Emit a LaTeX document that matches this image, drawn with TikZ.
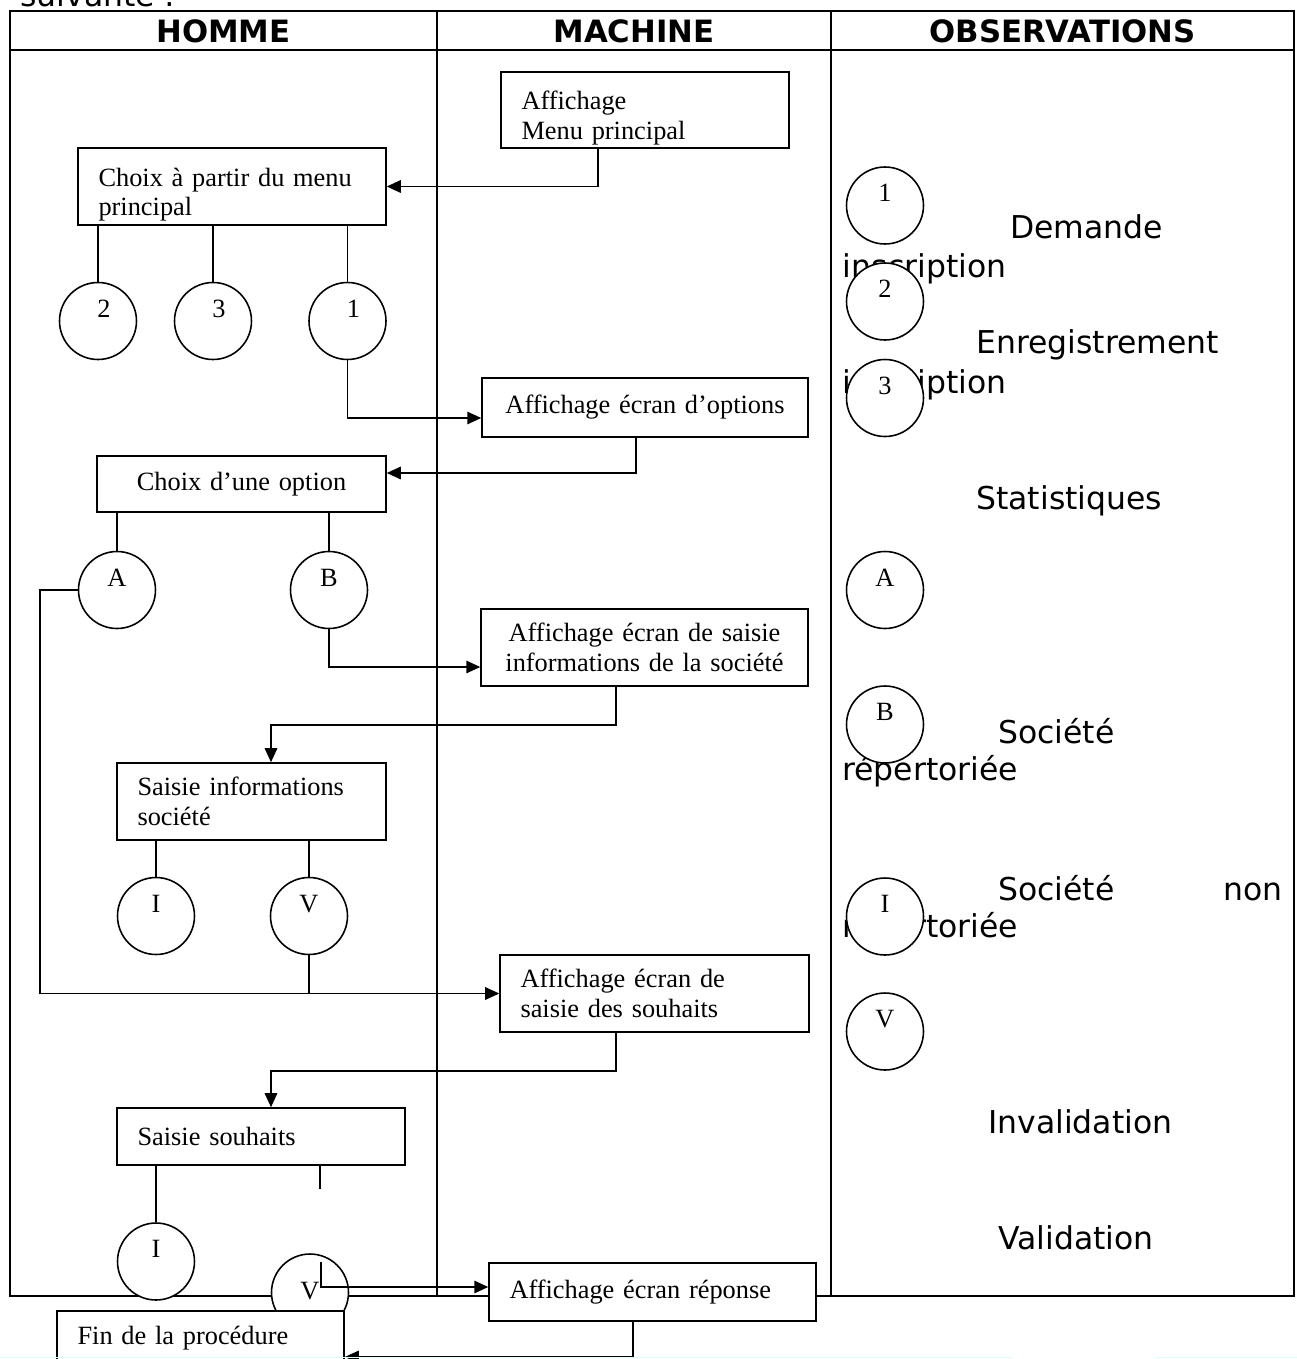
\documentclass[tikz,border=0pt]{standalone}
\usepackage{fontspec}
\setmainfont{Liberation Serif}
\newfontfamily\obsfont{DejaVu Sans}
\usepackage{tikz}
\usetikzlibrary{arrows.meta}
\definecolor{pageCyan}{HTML}{E2FBFB}

\begin{document}
\begin{tikzpicture}[x=0.02cm, y=-0.02cm,
    box/.style={draw, line width=0.9pt, fill=white, inner xsep=0.41cm, inner ysep=0pt,
        font=\fontsize{15}{17}\selectfont, align=left},
    disc/.style={draw, circle, line width=0.9pt, fill=white, minimum size=1.54cm, inner sep=0pt,
        text height=0.3cm, text depth=0.46cm, font=\fontsize{15}{17}\selectfont},
    obs/.style={anchor=base west, inner sep=0pt, font=\obsfont\fontsize{17.9}{21}\selectfont},
    head/.style={inner sep=0pt, font=\obsfont\bfseries\fontsize{17.5}{21}\selectfont},
    link/.style={line width=0.9pt},
    arr/.style={link, -{Triangle[length=0.28cm, width=0.25cm]}}]
    \useasboundingbox (0,0) rectangle (1297,1359);

    % table
    \draw[line width=1.2pt] (10,11) rectangle (1294,1296);
    \draw[line width=1.2pt] (10,50) -- (1294,50);
    \draw[line width=0.9pt] (437,11) -- (437,1296);
    \draw[line width=0.9pt] (831,11) -- (831,1296);
    \node[obs] (intro) at (20,7) {suivante :};
    \node[head] (hHomme) at (223.5,31) {HOMME};
    \node[head] (hMachine) at (634,31) {MACHINE};
    \node[head] (hObs) at (1062.5,31) {OBSERVATIONS};

    % observations
    \node[obs] (t1a) at (1010,238) {Demande};
    \node[obs] (t1b) at (842,277) {inscription};
    \node[obs] (t2a) at (976,353) {Enregistrement};
    \node[obs] (t2b) at (842,393) {inscription};
    \node[obs] (t3) at (976,509) {Statistiques};
    \node[obs] (tBa) at (998,743) {Société};
    \node[obs] (tBb) at (842,780) {répertoriée};
    \node[obs] (tIa) at (998,900) {Société};
    \node[obs, anchor=base east] (tIn) at (1283,900) {non};
    \node[obs] (tIb) at (842,937) {répertoriée};
    \node[obs] (tInv) at (988,1133) {Invalidation};
    \node[obs] (tVal) at (998,1249) {Validation};
    \node[disc] (o1) at (885,205.5) {1};
    \node[disc] (o2) at (885,301.5) {2};
    \node[disc] (o3) at (885,398) {3};
    \node[disc] (oA) at (885,590) {A};
    \node[disc] (oB) at (885,724.5) {B};
    \node[disc] (oI) at (885,916.5) {I};
    \node[disc] (oV) at (885,1031.5) {V};

    % boxes and choices
    \node[box, text width=4.94cm, minimum height=1.52cm] (mp) at (645,110) {\rule{0pt}{0.69cm}Affichage\\Menu principal};
    \node[box, text width=5.34cm, minimum height=1.54cm] (cm) at (232,186.5) {\rule{0pt}{0.69cm}Choix à partir du menu\\principal};
    \node[disc] (c2) at (98,321) {\hspace*{0.24cm}2};
    \node[disc] (c3) at (213,321) {\hspace*{0.24cm}3};
    \node[disc] (c1) at (347.5,321) {\hspace*{0.24cm}1};
    \node[box, text width=5.70cm, minimum height=1.18cm, align=center] (eo) at (645,407.5) {Affichage écran d’options};
    \node[box, text width=4.96cm, minimum height=1.12cm, align=center] (co) at (241.5,484) {Choix d’une option};
    \node[disc] (cA) at (117,590) {A};
    \node[disc] (cB) at (329,590) {B};
    \node[box, text width=5.72cm, minimum height=1.54cm, align=center] (si) at (644.5,647.5) {Affichage écran de saisie\\informations de la société};
    \node[box, text width=4.56cm, minimum height=1.54cm] (sis) at (251.5,801.5) {Saisie informations\\société};
    \node[disc] (cI) at (156,916) {I};
    \node[disc] (cV) at (309,916) {V};
    \node[box, text width=5.36cm, minimum height=1.54cm] (ss) at (654.5,993.5) {Affichage écran de\\saisie des souhaits};
    \node[box, text width=4.94cm, minimum height=1.14cm] (sh) at (261,1136.5) {Saisie souhaits};
    \node[disc] (cI2) at (156,1261.5) {I};
    \node[disc, text depth=0.04cm] (cV2) at (310,1292.5) {V};
    \node[box, text width=5.72cm, minimum height=1.16cm] (er) at (652.5,1292) {Affichage écran réponse};
    \node[box, text width=4.92cm, minimum height=1.08cm] (fp) at (200.5,1338) {Fin de la procédure};
    \coordinate (shstub) at (320,1189);
    \coordinate (vin) at (321,1262);

    % connectors
    \draw[arr] ([xshift=-0.94cm]mp.south) |- (cm.east);
    \foreach \c in {c2,c3,c1}
        \draw[link] (\c.north) -- (\c.north |- cm.south);
    \draw[arr] (c1.south) |- ([yshift=-0.21cm]eo.west);
    \draw[arr] ([xshift=-0.18cm]eo.south) |- ([yshift=0.22cm]co.east);
    \foreach \c in {cA,cB}
        \draw[link] (\c.north) -- (\c.north |- co.south);
    \draw[arr] (cB.south) |- ([yshift=-0.39cm]si.west);
    \draw[arr] ([xshift=-0.57cm]si.south) -- ++(0,38) -| ([xshift=0.39cm]sis.north);
    \foreach \c in {cI,cV}
        \draw[link] (\c.north) -- (\c.north |- sis.south);
    \draw[arr] (cA.west) -- ++(-38,0) |- (ss.west);
    \draw[link] (cV.south) -- (cV.south |- ss.west);
    \draw[arr] ([xshift=-0.77cm]ss.south) -- ++(0,38) -| ([xshift=0.2cm]sh.north);
    \draw[link] (cI2.north) -- (cI2.north |- sh.south);
    \draw[link] (shstub |- sh.south) -- (shstub);
    \draw[arr] (vin) |- ([yshift=0.1cm]er.west);
    \draw[arr] ([xshift=-0.39cm]er.south) |- ([yshift=-0.38cm]fp.east);

    \draw[pageCyan, line width=1pt] (0,1357.5) -- (1013,1357.5) (1157,1357.5) -- (1297,1357.5);
\end{tikzpicture}
\end{document}
